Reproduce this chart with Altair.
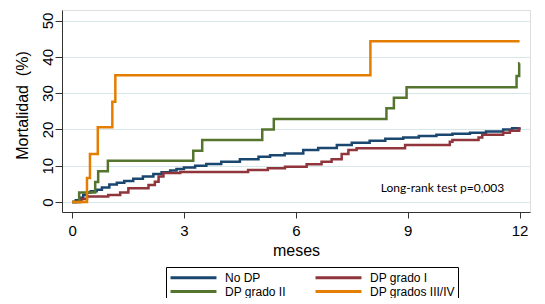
import altair as alt
import pandas as pd

GROUPS = ["No DP", "DP grado I", "DP grado II", "DP grados III/IV"]
COLORS = ["#1a476f", "#90353b", "#55752f", "#e37e00"]

NODP_T = [0, 0.1, 0.2, 0.3, 0.4, 0.5, 0.66, 0.8, 1.0, 1.2, 1.4, 1.64, 1.9, 2.18, 2.4, 2.63,
          2.8, 3.0, 3.3, 3.6, 4.0, 4.5, 5.0, 5.31, 5.7, 6.2, 6.6, 7.1, 7.5, 7.98, 8.4, 8.88,
          9.3, 9.77, 10.2, 10.67, 11.1, 11.56, 11.8, 12.0]
NODP_V = [0, 0.5, 1.2, 2.0, 2.6, 3.0, 3.4, 4.0, 4.8, 5.3, 5.8, 6.4, 7.0, 7.7, 8.2, 8.7,
          9.1, 9.5, 10.0, 10.5, 11.1, 11.8, 12.5, 12.9, 13.4, 14.3, 14.9, 15.7, 16.3, 16.9, 17.4, 17.8,
          18.2, 18.5, 18.8, 19.1, 19.4, 20.0, 20.3, 20.6]

G1_T = [0, 0.25, 0.4, 0.97, 1.29, 1.51, 2.05, 2.22, 2.32, 2.45, 2.9, 4.72, 5.25, 5.71, 6.29,
        6.69, 6.96, 7.23, 7.41, 7.63, 8.93, 10.13, 10.2, 10.9, 11.0, 11.56, 11.74, 11.99, 12.0]
G1_V = [0, 0.8, 1.5, 1.9, 2.6, 3.8, 4.7, 5.6, 7.0, 8.0, 8.3, 8.8, 9.3, 9.7, 10.4,
        11.1, 11.8, 13.2, 14.3, 14.8, 15.7, 16.6, 17.1, 17.8, 18.5, 19.1, 19.6, 20.3, 20.3]

G2_T = [0, 0.19, 0.62, 0.7, 0.96, 3.25, 3.49, 5.1, 5.41, 8.43, 8.63, 8.97, 11.92, 11.99, 12.0]
G2_V = [0, 2.6, 5.5, 8.5, 11.4, 14.1, 17.1, 20.0, 22.9, 25.8, 28.7, 31.6, 34.7, 38.2, 38.2]

G34_T = [0, 0.4, 0.48, 0.69, 1.08, 1.16, 8.0, 12.0]
G34_V = [0, 6.6, 13.2, 20.6, 27.6, 34.9, 44.3, 44.3]

X_TICKS = [0, 3, 6, 9, 12]
Y_TICKS = [0, 10, 20, 30, 40, 50]

ANNOT_TEXT = ["Long-rank test p=0,003"]
ANNOT_X = [8.28]
ANNOT_Y = [3.8]

rows = []
for i, (g, ts, vs) in enumerate(zip(GROUPS, [NODP_T, G1_T, G2_T, G34_T],
                                     [NODP_V, G1_V, G2_V, G34_V])):
    for t, v in zip(ts, vs):
        rows.append({"grupo": g, "meses": t, "mort": v, "k": i})
df = pd.DataFrame(rows)

ann = pd.DataFrame({"x": ANNOT_X, "y": ANNOT_Y, "t": ANNOT_TEXT})

FONT = "Liberation Sans"

xscale = alt.Scale(domain=[-0.27, 12.28], nice=False, zero=False)
yscale = alt.Scale(domain=[-2.75, 52.9], nice=False, zero=False)

lines = alt.Chart(df).mark_line(interpolate="step-after", strokeWidth=2.5).encode(
    x=alt.X("meses:Q", scale=xscale,
            axis=alt.Axis(values=X_TICKS, title="meses", grid=False,
                          labelFont=FONT, labelFontSize=15, labelColor="#000",
                          labelPadding=5, tickSize=6, tickColor="#333",
                          domainColor="#333", titleFont=FONT, titleFontSize=16,
                          titleFontWeight="normal", titleColor="#000",
                          titleBaseline="alphabetic", titleY=43)),
    y=alt.Y("mort:Q", scale=yscale,
            axis=alt.Axis(values=Y_TICKS, title="Mortalidad\u00a0 (%)", grid=True,
                          gridColor="#d6e6e9", gridWidth=1,
                          labelFont=FONT, labelFontSize=15, labelColor="#000",
                          labelAngle=270, labelAlign="center", labelBaseline="alphabetic",
                          labelPadding=3, tickSize=7, tickColor="#333",
                          domainColor="#333", titleFont=FONT, titleFontSize=16,
                          titleFontWeight="normal", titleColor="#000",
                          titleAngle=270, titleX=-40, titleY=95,
                          titleAlign="center", titleBaseline="middle")),
    color=alt.Color("grupo:N",
                    scale=alt.Scale(domain=GROUPS, range=COLORS),
                    sort=GROUPS,
                    legend=alt.Legend(title=None, orient="none", legendX=104, legendY=257,
                                      direction="horizontal",
                                      columns=2, columnPadding=23, rowPadding=-1,
                                      symbolType="M-3.83,0H3.83", symbolSize=144,
                                      symbolOffset=17, symbolStrokeWidth=3,
                                      symbolFillColor="transparent",
                                      labelOffset=24,
                                      labelFont=FONT, labelFontSize=12, labelColor="#000",
                                      strokeColor="#000", padding=3, fillColor="#fff")),
    order=alt.Order("meses:Q"),
)

text = alt.Chart(ann).mark_text(align="left", baseline="middle", font="Lato",
                                fontSize=12, color="#000").encode(
    x=alt.X("x:Q", scale=xscale), y=alt.Y("y:Q", scale=yscale), text="t:N")

chart = alt.layer(lines, text).properties(
    width=468, height=202,
    autosize=alt.AutoSizeParams(type="none"),
    padding={"left": 54, "top": 2, "right": 7, "bottom": 86},
).configure_view(stroke=None).configure(background="#fff")

chart.save("out.html", embed_options={"renderer": "svg", "actions": False})
